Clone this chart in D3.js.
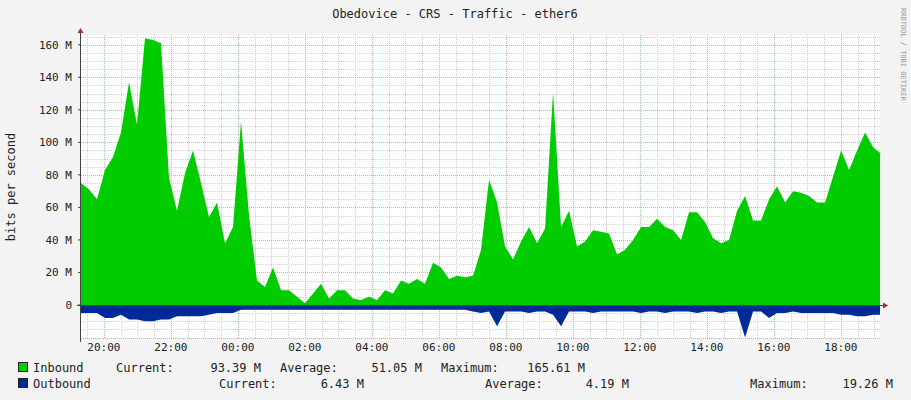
<!DOCTYPE html>
<html><head><meta charset="utf-8">
<script src="https://cdn.jsdelivr.net/npm/d3@7"></script>
<style>body{margin:0;background:#f3f3f3}text{font-family:"DejaVu Sans Mono",monospace}</style>
</head><body><svg id="c" width="911" height="400"></svg>
<script>
const title = "Obedovice - CRS - Traffic - ether6";
const startTime = new Date(2024,0,1,19,19);
const stepMinutes = 14.33;
const inbound = [75,71,65,83,91,106,137,111,164,163,161,78,58,81,95,75,54,63,38,48,113,55,15,11,23,9,9,5,1,7,13,4,9,9,4,3,5,3,9,7,15,13,16,13,26,23,16,18,17,18,
34,77,63,36,28,39,48,38,47,131,48,58,36,39,46,45,44,31,34,40,48,48,53,48,46,40,57,57,51,41,38,40,58,67,52,52,65,73,63,70,69,67,63,63,79,95,83,95,106,97,93];
const outbound = [-5,-5,-5,-8,-8,-6,-9,-9,-10,-10,-9,-9,-7,-7,-7,-7,-6,-5,-5,-5,-3,-3,-3,-3,-3,-3,-3,-3,-3,-3,-3,-3,-3,-3,-3,-3,-3,-3,-3,-3,-3,-3,-3,-3,-3,-3,-3,-3,-3,-4,
-5,-4,-13,-4,-4,-4,-5,-4,-4,-6,-13,-4,-4,-4,-5,-4,-4,-4,-4,-4,-5,-4,-4,-5,-4,-4,-4,-5,-4,-4,-5,-4,-4,-20,-4,-4,-8,-5,-5,-4,-5,-5,-5,-5,-5,-6,-6,-7,-7,-6,-6];
const yTicks = [0,20,40,60,80,100,120,140,160];
const legendIn = ["Inbound","Current:","93.39 M","Average:","51.05 M","Maximum:","165.61 M"];
const legendOut = ["Outbound","Current:","6.43 M","Average:","4.19 M","Maximum:","19.26 M"];

const svg = d3.select("#c");
const L=81,R=880,T=35,B=338;
const endTime = new Date(startTime.getTime()+ (R-L)/33.5*3600e3);
const x = d3.scaleTime().domain([startTime,endTime]).range([L,R]);
const y = d3.scaleLinear().domain([-20.3,166]).range([B,T]);
svg.append("rect").attr("x",L).attr("y",T).attr("width",R-L).attr("height",B-T).attr("fill","#fff");
const g = svg.append("g");
d3.range(-20,166,5).forEach(v=>{ if(v%20) g.append("line").attr("x1",L).attr("x2",R).attr("y1",Math.round(y(v))+.5).attr("y2",Math.round(y(v))+.5).attr("stroke","#d0d0d0").attr("stroke-dasharray","1,1");});
x.ticks(d3.timeMinute.every(30)).forEach(t=>{ if(t.getMinutes()!==0||t.getHours()%2) g.append("line").attr("x1",Math.round(x(t))+.5).attr("x2",Math.round(x(t))+.5).attr("y1",T).attr("y2",B).attr("stroke","#d0d0d0").attr("stroke-dasharray","1,1");});
d3.range(-20,166,20).forEach(v=>g.append("line").attr("x1",L).attr("x2",R).attr("y1",Math.round(y(v))+.5).attr("y2",Math.round(y(v))+.5).attr("stroke","#f0a0a0").attr("stroke-dasharray","1,1"));
const hourTicks = x.ticks(d3.timeHour.every(2));
hourTicks.forEach(t=>g.append("line").attr("x1",Math.round(x(t))+.5).attr("x2",Math.round(x(t))+.5).attr("y1",T).attr("y2",B).attr("stroke","#f0a0a0").attr("stroke-dasharray","1,1"));
const tAt = i => new Date(startTime.getTime()+i*stepMinutes*60e3);
const pts = inbound.map((v,i)=>({t:tAt(i),a:v,b:outbound[i]}));
pts.push({t:endTime,a:inbound[inbound.length-1],b:outbound[outbound.length-1]});
svg.append("path").datum(pts).attr("fill","#00cc00").attr("d",d3.area().x(d=>x(d.t)).y0(y(0)).y1(d=>y(d.a)));
svg.append("path").datum(pts).attr("fill","#002a97").attr("d",d3.area().x(d=>x(d.t)).y0(y(0)).y1(d=>y(d.b)));
svg.append("line").attr("x1",L-0.5).attr("x2",L-0.5).attr("y1",B+4).attr("y2",T-4).attr("stroke","#444");
svg.append("line").attr("x1",L-4).attr("x2",R+4).attr("y1",y(0)+.5).attr("y2",y(0)+.5).attr("stroke","#444");
svg.append("path").attr("d",`M${L-3.5},${T-2}L${L-0.5},${T-7}L${L+2.5},${T-2}Z`).attr("fill","#a03030");
svg.append("path").attr("d",`M${R+3},${y(0)-2.5}L${R+8},${y(0)+.5}L${R+3},${y(0)+3.5}Z`).attr("fill","#a03030");
yTicks.forEach(v=>{
  svg.append("line").attr("x1",L-3).attr("x2",L).attr("y1",y(v)).attr("y2",y(v)).attr("stroke","#444");
  svg.append("text").attr("x",72).attr("y",y(v)+4).attr("text-anchor","end").attr("font-size",11).attr("fill","#222").text(v===0?"0":v+" M");
});
hourTicks.forEach(t=>svg.append("text").attr("x",x(t)).attr("y",351).attr("text-anchor","middle").attr("font-size",11).attr("fill","#222").text(d3.timeFormat("%H:%M")(t)));
svg.append("text").attr("x",455).attr("y",18).attr("text-anchor","middle").attr("font-size",12).attr("fill","#222").text(title);
svg.append("text").attr("transform","translate(15,187) rotate(-90)").attr("text-anchor","middle").attr("font-size",12).attr("fill","#222").text("bits per second");
svg.append("text").attr("transform","translate(901,8) rotate(90)").attr("font-size",7).attr("fill","#999").text("RRDTOOL / TOBI OETIKER");
const leg = (row,yy,col,xs)=>{
  svg.append("rect").attr("x",18.5).attr("y",yy-9.5).attr("width",9).attr("height",9).attr("fill",col).attr("stroke","#222");
  row.forEach((s,i)=>svg.append("text").attr("x",xs[i]).attr("y",yy).attr("font-size",12).attr("fill","#222").attr("text-anchor",i%2===0&&i>0?"end":"start").text(s));
};
leg(legendIn,372,"#00cc00",[33,116,261,280,422,441,585]);
leg(legendOut,388,"#002a97",[33,219,364,485,629,750,893]);
</script></body></html>
